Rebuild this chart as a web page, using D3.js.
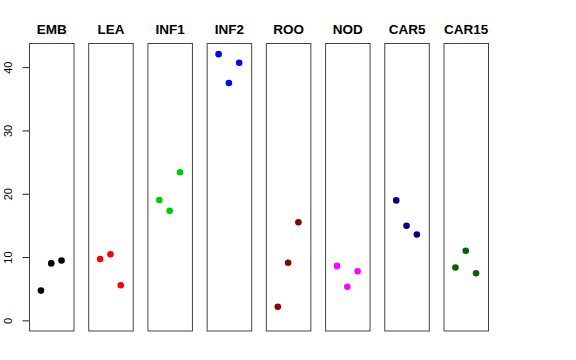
<!DOCTYPE html>
<html><head><meta charset="utf-8">
<script src="https://cdn.jsdelivr.net/npm/d3@7"></script>
<style>body{margin:0;background:#fff}svg{display:block}</style>
</head><body>
<script>
const categories = ["EMB","LEA","INF1","INF2","ROO","NOD","CAR5","CAR15"];
const colors = ["#000000","#FF0000","#00CD00","#0000FF","#8B0000","#FF00FF","#00008B","#006400"];
const val1 = [4.7, 9.7, 19.0, 42.05, 2.15, 8.6, 18.95, 8.35];
const val2 = [9.0, 10.45, 17.3, 37.5, 9.1, 5.3, 14.95, 11.0];
const val3 = [9.45, 5.55, 23.4, 40.7, 15.5, 7.75, 13.55, 7.45];
const yTicks = [0, 10, 20, 30, 40];

const W = 576, H = 360;
const svg = d3.select("body").append("svg").attr("width", W).attr("height", H);
const plotTop = 43.5, plotBottom = 331;
const y = d3.scaleLinear().domain([-0.04*42.05, 42.05*1.04]).range([plotBottom, plotTop]);
const panel = d3.scaleBand().domain(categories).range([29, 488]).paddingInner(0.2485).paddingOuter(0);
const bw = panel.bandwidth();
const x = d3.scaleLinear().domain([-0.16, 4.16]).range([0, bw]);

// y axis
const ax = svg.append("g").attr("transform","translate(29.5,0)")
  .call(d3.axisLeft(y).tickValues(yTicks).tickSize(7).tickSizeOuter(0));
ax.select(".domain").attr("d", `M0,${y(0)}V${y(40)}`).attr("stroke","#222");
ax.selectAll(".tick line").attr("stroke","#222");
ax.selectAll(".tick text").remove();
ax.selectAll(".tick").append("text")
  .attr("transform","translate(-21,0) rotate(-90)")
  .attr("text-anchor","middle").attr("dy","0.35em")
  .attr("font-family","Liberation Sans, Arial, sans-serif").attr("font-size",11).attr("fill","#000")
  .text(d=>d);

categories.forEach((c,i)=>{
  const g = svg.append("g").attr("transform",`translate(${panel(c)},0)`);
  g.append("rect").attr("x",0.5).attr("y",plotTop).attr("width",bw).attr("height",plotBottom-plotTop)
    .attr("fill","none").attr("stroke","#444").attr("stroke-width",1);
  g.append("text").attr("x",bw/2+0.5).attr("y",34).attr("text-anchor","middle")
    .attr("font-family","Liberation Sans, Arial, sans-serif").attr("font-weight","bold").attr("font-size",13.5)
    .text(c);
  const vals = [val1[i], val2[i], val3[i]];
  g.selectAll("circle").data(vals).join("circle")
    .attr("cx",(d,j)=>x(j+1)).attr("cy",d=>y(d)).attr("r",3.3).attr("fill",colors[i]);
});
</script>
</body></html>
